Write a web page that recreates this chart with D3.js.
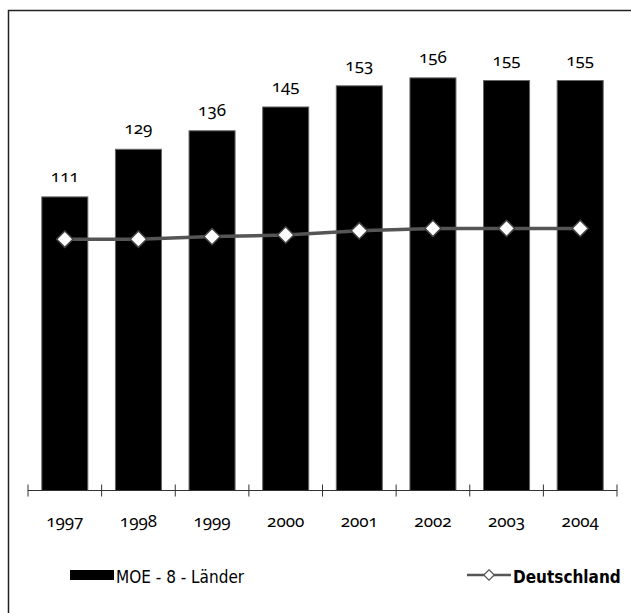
<!DOCTYPE html>
<html>
<head>
<meta charset="utf-8">
<script src="https://cdn.jsdelivr.net/npm/d3@7"></script>
<style>
  body { margin: 0; background: #fff; overflow: hidden; }
  svg { display: block; }
  svg text { font-family: "Noto Sans", "Lato", sans-serif; }
  .num { font-variant-numeric: oldstyle-nums; font-feature-settings: "onum" 1; }
</style>
</head>
<body>
<svg width="631" height="613"></svg>
<script>
// years on the x axis
const years = ["1997", "1998", "1999", "2000", "2001", "2002", "2003", "2004"];
// MOE - 8 - Länder (bars)
const moeValues = [111, 129, 136, 145, 153, 156, 155, 155];
// Deutschland (line)
const deValues = [95, 95, 96, 96.6, 98.2, 99.1, 99.1, 99.1];

const svg = d3.select("svg");

// outer frame: only top and left edges are visible
svg.append("path")
    .attr("d", "M8.5,613 V10.5 H631")
    .attr("fill", "none")
    .attr("stroke", "#222")
    .attr("stroke-width", 1.5);

const x = d3.scaleBand()
    .domain(years)
    .range([28, 617])
    .paddingInner(0.375)
    .paddingOuter(0.1875);

const y = d3.scaleLinear()
    .domain([0, 180])
    .range([490.5, 14.4]);

// bars
svg.append("g").selectAll("rect")
    .data(moeValues)
    .join("rect")
    .attr("x", (d, i) => x(years[i]))
    .attr("y", d => y(d))
    .attr("width", x.bandwidth())
    .attr("height", d => y(0) - y(d))
    .attr("fill", "#000")
    .attr("stroke", "#666")
    .attr("stroke-width", 1);

// value labels
svg.append("g").selectAll("text")
    .data(moeValues)
    .join("text")
    .attr("class", "num")
    .attr("x", (d, i) => x(years[i]) + x.bandwidth() / 2)
    .attr("y", d => y(d) - 15)
    .attr("text-anchor", "middle")
    .attr("font-size", 17)
    .attr("fill", "#000")
    .text(d => d);

// x axis with ticks at band edges
const axisY = y(0);
const edges = d3.range(years.length + 1).map(i => x.range()[0] + i * x.step());
svg.append("line")
    .attr("x1", edges[0]).attr("x2", edges[edges.length - 1])
    .attr("y1", axisY).attr("y2", axisY)
    .attr("stroke", "#333").attr("stroke-width", 1);
svg.append("g").selectAll("line")
    .data(edges)
    .join("line")
    .attr("x1", d => d).attr("x2", d => d)
    .attr("y1", axisY - 6).attr("y2", axisY + 6)
    .attr("stroke", "#333").attr("stroke-width", 1);

svg.append("g").selectAll("text")
    .data(years)
    .join("text")
    .attr("class", "num")
    .attr("x", d => x(d) + x.bandwidth() / 2)
    .attr("y", 527)
    .attr("text-anchor", "middle")
    .attr("font-size", 17)
    .text(d => d);

// Deutschland line
const line = d3.line()
    .x((d, i) => x(years[i]) + x.bandwidth() / 2)
    .y(d => y(d));

svg.append("path")
    .datum(deValues)
    .attr("d", line)
    .attr("fill", "none")
    .attr("stroke", "#555")
    .attr("stroke-width", 3.5);

const diamond = d3.symbol().type(d3.symbolDiamond2).size(170);
svg.append("g").selectAll("path")
    .data(deValues)
    .join("path")
    .attr("d", diamond)
    .attr("transform", (d, i) => `translate(${x(years[i]) + x.bandwidth() / 2},${y(d)})`)
    .attr("fill", "#fff")
    .attr("stroke", "#444")
    .attr("stroke-width", 1.5);

// legend
const legend = svg.append("g");
legend.append("rect")
    .attr("x", 70).attr("y", 570)
    .attr("width", 44).attr("height", 10)
    .attr("fill", "#000");
legend.append("text")
    .attr("x", 116).attr("y", 583)
    .attr("font-size", 17)
    .style("font-family", "'Liberation Sans Narrow', 'DejaVu Sans Condensed', sans-serif")
    .text("MOE - 8 - Länder");

legend.append("line")
    .attr("x1", 467).attr("x2", 511)
    .attr("y1", 575).attr("y2", 575)
    .attr("stroke", "#555").attr("stroke-width", 2.5);
legend.append("path")
    .attr("d", d3.symbol().type(d3.symbolDiamond2).size(70))
    .attr("transform", "translate(489,575)")
    .attr("fill", "#fff")
    .attr("stroke", "#555")
    .attr("stroke-width", 1.2);
legend.append("text")
    .attr("x", 513).attr("y", 583)
    .attr("font-size", 17)
    .attr("font-weight", "bold")
    .style("font-family", "'Liberation Sans Narrow', 'DejaVu Sans Condensed', sans-serif")
    .text("Deutschland");
</script>
</body>
</html>
